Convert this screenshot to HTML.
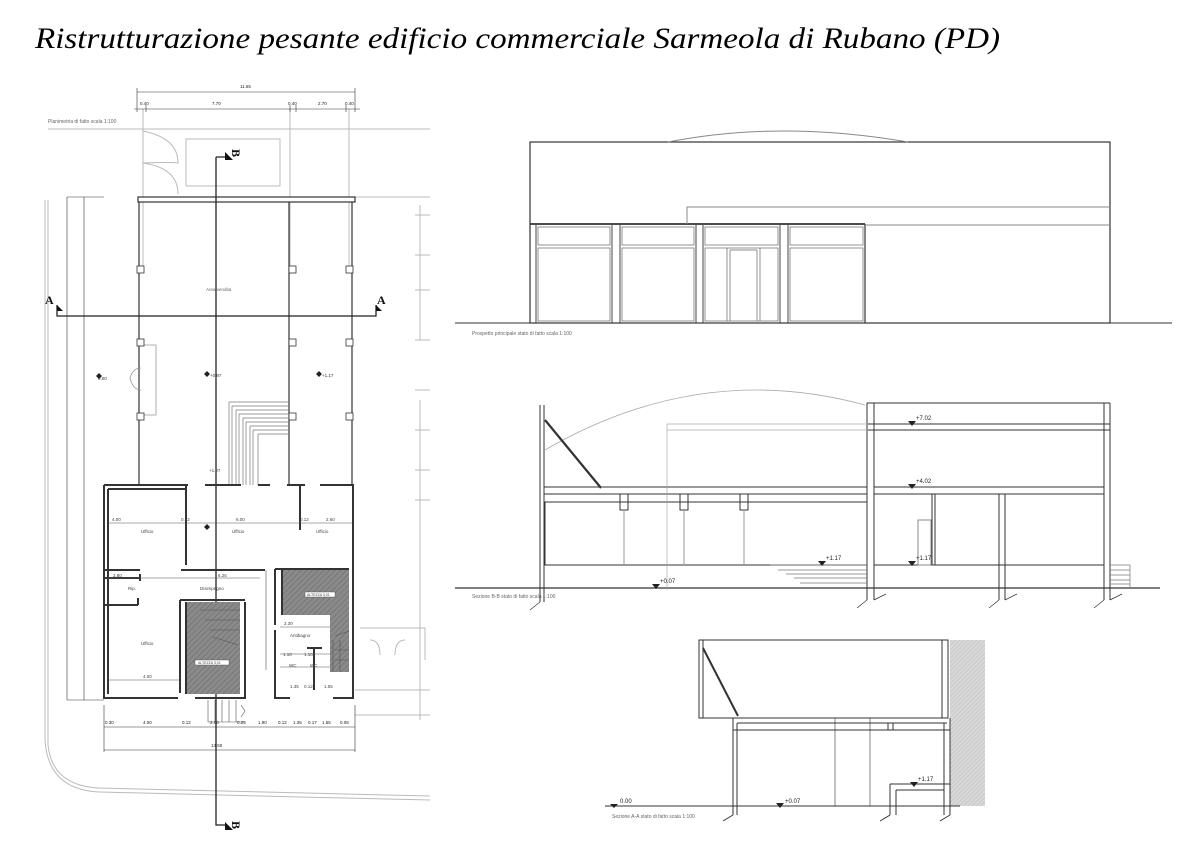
<!DOCTYPE html>
<html><head><meta charset="utf-8"><style>
html,body{margin:0;padding:0;background:#fff;}
svg{display:block;font-family:"Liberation Sans",sans-serif;}
.serif{font-family:"Liberation Serif",serif;}
</style></head><body>
<svg width="1200" height="848" viewBox="0 0 1200 848" xmlns="http://www.w3.org/2000/svg">
<defs>
<pattern id="h" width="4" height="4" patternUnits="userSpaceOnUse" patternTransform="rotate(45)"><rect width="4" height="4" fill="#8a8a8a"/><line x1="0" y1="0" x2="0" y2="4" stroke="#666" stroke-width="1"/></pattern>
<pattern id="h2" width="3" height="3" patternUnits="userSpaceOnUse" patternTransform="rotate(45)"><rect width="3" height="3" fill="#d8d8d8"/><line x1="0" y1="0" x2="0" y2="3" stroke="#bbb" stroke-width="1"/></pattern>
</defs>
<text class="serif" x="35" y="48" font-style="italic" font-size="30" textLength="965" lengthAdjust="spacingAndGlyphs">Ristrutturazione pesante edificio commerciale Sarmeola di Rubano (PD)</text>

<!-- ========== PLAN ========== -->
<g fill="none" stroke="#bbb" stroke-width="1">
<line x1="48" y1="129" x2="430" y2="129"/>
<rect x="186" y="139" width="94" height="47"/>
<path d="M143 131 V194 M143 131 Q178 138 178 163 Q170 162 143 163 Q178 168 178 194"/>
<line x1="355" y1="197" x2="430" y2="197"/>
<path d="M45 200 V740 Q48 790 100 792 L300 797 L430 800"/>
<path d="M48 200 V745 Q52 785 98 788 L430 796"/>
<path d="M420 205 V340 M420 400 V470 M420 470 V720 M355 690 H430 M355 715 H430"/>
<path d="M415 215 H430 M415 255 H430 M415 290 H430 M415 340 H430 M415 390 H430 M415 430 H430 M415 470 H430 M415 500 H430"/>
<path d="M360 628 H425 V660 M370 640 Q380 640 380 655 M405 640 Q395 640 395 655"/>
<line x1="143" y1="109" x2="143" y2="270"/><line x1="290" y1="109" x2="290" y2="270"/><line x1="349" y1="109" x2="349" y2="270"/>
</g>
<g stroke="#333" stroke-width="0.6" fill="none">
<line x1="137" y1="92" x2="355" y2="92"/>
<line x1="134" y1="109" x2="360" y2="109"/>
<line x1="137" y1="88" x2="137" y2="112"/><line x1="355" y1="88" x2="355" y2="112"/>
<line x1="146" y1="105" x2="146" y2="112"/><line x1="290" y1="105" x2="290" y2="112"/><line x1="296" y1="105" x2="296" y2="112"/><line x1="346" y1="105" x2="346" y2="112"/>
<line x1="67" y1="197" x2="67" y2="700"/><line x1="84" y1="197" x2="84" y2="700"/>
<line x1="67" y1="197" x2="104" y2="197"/><line x1="67" y1="700" x2="104" y2="700"/>
<line x1="104" y1="727" x2="355" y2="727"/><line x1="104" y1="750" x2="355" y2="750"/>
<line x1="104" y1="705" x2="104" y2="752"/><line x1="355" y1="705" x2="355" y2="752"/>
</g>
<g font-size="4.5" fill="#222">
<text x="240" y="88">11.65</text><text x="140" y="105">0.40</text><text x="212" y="105">7.70</text><text x="288" y="105">0.40</text><text x="318" y="105">2.70</text><text x="345" y="105">0.40</text>
<text x="211" y="747">13.50</text>
<text x="105" y="724">0.30</text><text x="143" y="724">4.00</text><text x="182" y="724">0.12</text><text x="210" y="724">2.60</text><text x="237" y="724">0.25</text><text x="258" y="724">1.90</text><text x="278" y="724">0.12</text><text x="293" y="724">1.35</text><text x="308" y="724">0.17</text><text x="322" y="724">1.55</text><text x="340" y="724">0.08</text>
</g>
<text x="48" y="123" font-size="5" fill="#666">Planimetria di fatto scala 1:100</text>
<rect x="138" y="197" width="217" height="5" fill="#fff" stroke="#333" stroke-width="1.2"/>
<g stroke="#333" stroke-width="1.2" fill="none">
<line x1="139" y1="202" x2="139" y2="485"/>
<line x1="289" y1="202" x2="289" y2="485"/>
<line x1="352" y1="202" x2="352" y2="485"/>
<path d="M141 345 H156 V415 H141 M141 368 Q133 368 130 378 Q133 390 141 390" stroke-width="0.8" stroke="#999"/>
</g>
<g fill="#fff" stroke="#333" stroke-width="0.8">
<rect x="137" y="266" width="7" height="7"/><rect x="289" y="266" width="7" height="7"/><rect x="346" y="266" width="7" height="7"/>
<rect x="137" y="339" width="7" height="7"/><rect x="289" y="339" width="7" height="7"/><rect x="346" y="339" width="7" height="7"/>
<rect x="137" y="413" width="7" height="7"/><rect x="289" y="413" width="7" height="7"/><rect x="346" y="413" width="7" height="7"/>
</g>
<g stroke="#777" stroke-width="0.7" fill="none">
<path d="M229 402 H289 M232 406 H289 M236 410 H289 M239 414 H289 M243 418 H289 M246 422 H289 M250 426 H289 M253 430 H289 M258 434 H289"/>
<path d="M229 402 V485 M232 406 V485 M236 410 V485 M239 414 V485 M243 418 V485 M246 422 V485 M250 426 V485 M253 430 V485 M258 434 V485"/>
</g>
<text x="206" y="291" font-size="4.5" fill="#666">Area vendita</text>
<g font-size="4.5" fill="#333"><text x="98" y="380">0.00</text><text x="210" y="377">+0.97</text><text x="322" y="377">+1.17</text></g>
<g fill="#222"><path d="M96 376 l3 -3 l3 3 l-3 3z M204 374 l3 -3 l3 3 l-3 3z M316 374 l3 -3 l3 3 l-3 3z"/></g>
<g stroke="#222" stroke-width="1.3" fill="none">
<path d="M57 305 V316 H376 V305"/>
<path d="M216 157 H225 M216 157 V825 H225"/>
</g>
<g fill="#111"><path d="M57 305 l6 6 h-6z M376 305 l6 6 h-6z M225 152 v8 h8z M225 822 v8 h8z"/></g>
<g class="serif" font-size="12" fill="#111" font-weight="bold">
<text x="45" y="304">A</text><text x="377" y="304">A</text><text x="231" y="158" transform="rotate(90 236 154)">B</text><text x="231" y="830" transform="rotate(90 236 826)">B</text>
</g>
<rect x="186" y="602" width="54" height="92" fill="url(#h)"/>
<path d="M282 569 H349 V672 H330 V615 H282Z" fill="url(#h)"/>
<g stroke="#333" stroke-width="2" fill="none">
<path d="M104 485 H188 M104 485 V698 H178 M195 698 H245 V602"/>
<path d="M108 489 V694 M108 489 H186"/>
<path d="M186 485 V565 M181 570 H265 M104 570 H140"/>
<path d="M104 578 H140 M140 574 V581 M104 605 H138 M138 598 V605"/>
<path d="M180 600 V693 M180 600 H245 M186 602 V694"/>
<path d="M205 485 H241 M258 485 H270"/>
<path d="M287 485 H305 M300 485 V530 M320 485 H353 V698 H333 M282 569 V615"/>
<path d="M275 569 H349 M275 569 V625 M275 630 V698 H290"/>
<path d="M307 648 H322 M314 648 V690"/>
</g>
<g stroke="#555" stroke-width="0.6" fill="none">
<line x1="108" y1="523" x2="352" y2="523"/><line x1="108" y1="578" x2="260" y2="578"/><line x1="108" y1="680" x2="180" y2="680"/>
<line x1="266" y1="570" x2="266" y2="670"/><line x1="280" y1="627" x2="330" y2="627"/><line x1="280" y1="667" x2="330" y2="667"/><line x1="280" y1="654" x2="330" y2="654"/>
<path d="M208 700 V722 H245 M215 700 V722 M222 700 V722 M229 700 V722 M236 700 V722 M241 705 l4 6 l-4 6"/>
<path d="M335 636 l14 -5 M333 640 V672 M340 640 V672 M335 650 H349 M335 660 H349"/>
<path d="M200 610 H240 M205 620 H240 M210 630 H240 M213 637 l25 8"/>
</g>
<g font-size="4.5" fill="#444">
<text x="112" y="521">4.00</text><text x="181" y="521">0.12</text><text x="236" y="521">6.00</text><text x="300" y="521">0.12</text><text x="326" y="521">2.60</text>
<text x="141" y="533">Ufficio</text><text x="232" y="533">Ufficio</text><text x="316" y="533">Ufficio</text>
<text x="113" y="577">2.80</text><text x="128" y="590">Rip.</text><text x="200" y="590">Disimpegno</text><text x="218" y="577">6.25</text>
<text x="141" y="645">Ufficio</text><text x="143" y="678">4.00</text>
<text x="284" y="625">2.30</text><text x="290" y="637">Antibagno</text><text x="283" y="656">1.10</text><text x="304" y="656">1.10</text><text x="289" y="667">WC</text><text x="310" y="667">WC</text>
<text x="290" y="688">1.35</text><text x="304" y="688">0.12</text><text x="324" y="688">1.55</text>
<text x="209" y="472">+1.27</text>
</g>
<rect x="195" y="660" width="34" height="5" fill="#fff" stroke="#444" stroke-width="0.4"/><text x="198" y="664" font-size="3.5" fill="#444">ALTEZZA 3,01</text>
<rect x="305" y="592" width="30" height="5" fill="#fff" stroke="#444" stroke-width="0.4"/><text x="307" y="596" font-size="3.5" fill="#444">ALTEZZA 3,01</text>
<path d="M204 527 l3 -3 l3 3 l-3 3z" fill="#222"/>

<!-- ========== ELEVATION ========== -->
<g stroke="#333" stroke-width="1.2" fill="none">
<rect x="530" y="142" width="580" height="181"/>
<line x1="455" y1="323" x2="1172" y2="323" stroke-width="1"/>
<line x1="530" y1="224" x2="865" y2="224" stroke-width="1.8"/>
<line x1="865" y1="224" x2="865" y2="323"/>
</g>
<g stroke="#888" stroke-width="1" fill="none">
<path d="M668 142 Q780 120 908 142"/>
<path d="M687 224 V207 H1110 M865 225 H1110"/>
</g>
<g stroke="#333" stroke-width="0.9" fill="none">
<path d="M536 225 V323 M612 225 V323 M620 225 V323 M696 225 V323 M703 225 V323 M780 225 V323 M788 225 V323"/>
</g>
<g stroke="#666" stroke-width="0.7" fill="none">
<rect x="538" y="227" width="72" height="18"/><rect x="538" y="248" width="72" height="73"/>
<rect x="622" y="227" width="72" height="18"/><rect x="622" y="248" width="72" height="73"/>
<rect x="705" y="227" width="73" height="18"/><rect x="705" y="248" width="73" height="73"/>
<rect x="790" y="227" width="73" height="18"/><rect x="790" y="248" width="73" height="73"/>
<path d="M727 248 V321 M730 250 V321 M757 250 V321 M760 248 V321 M730 250 H757"/>
</g>
<text x="472" y="335" font-size="5" fill="#666">Prospetto principale stato di fatto scala 1:100</text>

<!-- ========== SECTION B-B ========== -->
<g stroke="#aaa" stroke-width="0.8" fill="none"><path d="M545 450 Q700 360 865 405"/></g>
<g stroke="#333" stroke-width="1" fill="none">
<line x1="455" y1="588" x2="1160" y2="588" stroke-width="1.2"/>
<path d="M540 405 V602 M544 405 V602"/>
<rect x="544" y="487" width="323" height="7"/>
<path d="M544 494 H867 V502 H544"/>
<path d="M545 502 V565 H867"/>
<path d="M620 494 V510 H628 V494 M680 494 V510 H688 V494 M740 494 V510 H748 V494"/>
<path d="M624 510 V565 M684 510 V565 M744 510 V565" stroke="#999"/>
<path d="M867 403 V600 M874 403 V600 M1104 403 V600 M1110 403 V600 M999 494 V600 M1005 494 V600"/>
<path d="M867 424 H1110 M867 430 H1110 M874 487 H1104 M874 494 H1104 M874 565 H1104 M867 403 H1110"/>
<rect x="874" y="430" width="230" height="57"/>
<path d="M932 494 V565 M935 494 V565"/>
<rect x="918" y="520" width="13" height="45" stroke="#888"/>
</g>
<line x1="545" y1="420" x2="601" y2="488" stroke="#333" stroke-width="2.2"/>
<g stroke="#777" stroke-width="0.7" fill="none">
<path d="M770 565 H867 M778 570 H867 M786 574 H867 M794 578 H867 M800 583 H867"/>
<path d="M1110 565 H1130 V588 M1110 570 H1130 M1110 575 H1130 M1110 580 H1130 M1110 584 H1130"/>
<path d="M667 424 V590 M667 424 H868 M667 430 H868" stroke="#aaa"/>
<path d="M540 602 l-10 8 M867 600 l-10 8 M999 600 l-10 8 M1104 600 l-10 8 M874 600 l12 -6 M1005 600 l12 -6 M1110 600 l12 -6" stroke="#333"/>
</g>
<g font-size="6" fill="#222">
<text x="916" y="420">+7.02</text><text x="916" y="483">+4.02</text><text x="826" y="560">+1.17</text><text x="916" y="560">+1.17</text><text x="660" y="583">+0.07</text>
</g>
<g fill="#222"><path d="M908 421 h8 l-4 5z M908 484 h8 l-4 5z M818 561 h8 l-4 5z M908 561 h8 l-4 5z M652 584 h8 l-4 5z"/></g>
<text x="472" y="598" font-size="5" fill="#666">Sezione B-B stato di fatto scala 1:100</text>

<!-- ========== SECTION A-A ========== -->
<rect x="950" y="640" width="35" height="166" fill="url(#h2)"/>
<g stroke="#333" stroke-width="1" fill="none">
<rect x="699" y="640" width="249" height="78"/>
<path d="M703 640 V718 M942 640 V718"/>
<path d="M733 718 V815 M737 723 V815 M737 723 H947 M733 730 H950 M950 718 V815 M944 723 V815"/>
<path d="M890 784 V815 M896 790 V815 M890 784 H950 M896 790 H944 M888 723 V730 M893 723 V730"/>
<line x1="605" y1="806" x2="960" y2="806"/>
<path d="M733 815 l-10 6 M890 815 l-10 6 M950 815 l-10 6"/>
<path d="M835 718 V806 M870 718 V806" stroke-width="0.6"/>
</g>
<line x1="703" y1="648" x2="738" y2="716" stroke="#333" stroke-width="2"/>
<g font-size="6" fill="#222"><text x="620" y="803">0.00</text><text x="785" y="803">+0.07</text><text x="918" y="781">+1.17</text></g>
<g fill="#222"><path d="M610 804 h8 l-4 4z M776 803 h8 l-4 5z M910 782 h8 l-4 5z"/></g>
<text x="612" y="818" font-size="5" fill="#666">Sezione A-A stato di fatto scala 1:100</text>
</svg>
</body></html>
